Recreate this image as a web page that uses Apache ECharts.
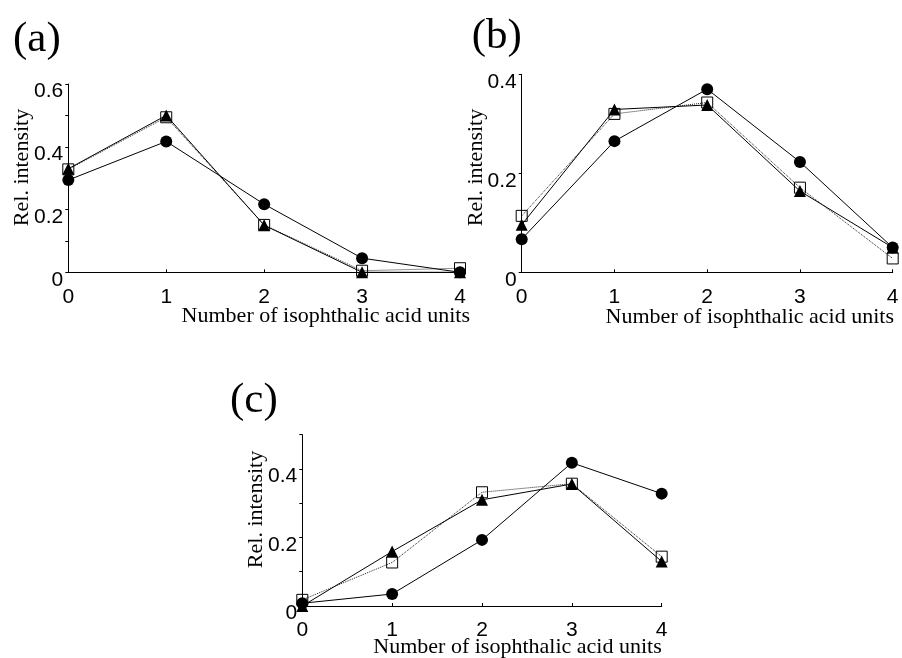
<!DOCTYPE html>
<html>
<head>
<meta charset="utf-8">
<script src="https://cdn.jsdelivr.net/npm/echarts@6/dist/echarts.min.js"></script>
<style>
  html, body { margin: 0; background: #fff; }
  #chart { width: 902px; height: 658px; }
</style>
</head>
<body>
<div id="chart"></div>
<script>
// x categories: number of isophthalic acid units
const units = [0, 1, 2, 3, 4]

// panel (a)
const circleA = [0.294, 0.417, 0.217, 0.045, 0.0]
const squareA = [0.328, 0.494, 0.151, 0.005, 0.013]
const triangleA = [0.33, 0.5, 0.15, 0.0, 0.0]

// panel (b)
const circleB = [0.067, 0.265, 0.37, 0.223, 0.05]
const squareB = [0.114, 0.32, 0.343, 0.171, 0.028]
const triangleB = [0.096, 0.329, 0.338, 0.164, 0.05]

// panel (c)
const circleC = [0.008, 0.035, 0.193, 0.418, 0.328]
const squareC = [0.018, 0.127, 0.332, 0.357, 0.144]
const triangleC = [0.0, 0.159, 0.31, 0.356, 0.13]

const xName = 'Number of isophthalic acid units'
const yName = 'Rel. intensity'

const chart = echarts.init(document.getElementById('chart'))

const sans = 'Liberation Sans, Arial, sans-serif'
const serif = 'Liberation Serif, Times New Roman, serif'

function pairs(vals) {
  return units.map((u, i) => [u, vals[i]])
}

function xAxisFor(gridIndex, margin) {
  return {
    type: 'value',
    gridIndex,
    min: 0,
    max: 4,
    interval: 1,
    splitLine: { show: false },
    axisLine: { onZero: false, lineStyle: { color: '#000', width: 1 } },
    axisTick: { inside: true, length: 3, lineStyle: { color: '#000' } },
    axisLabel: { color: '#000', fontFamily: sans, fontSize: 21, margin }
  }
}

function yAxisFor(gridIndex, max, interval) {
  return {
    type: 'value',
    gridIndex,
    min: 0,
    max,
    interval,
    splitLine: { show: false },
    axisLine: { show: true, lineStyle: { color: '#000', width: 1 } },
    axisTick: { show: true, length: 3, lineStyle: { color: '#000' } },
    axisLabel: {
      color: '#000',
      fontFamily: sans,
      fontSize: 21,
      margin: 5,
      verticalAlign: 'top',
      lineHeight: 15,
      formatter: v => {
        const t = Math.round(v * 10)
        return t % 2 === 0 ? String(t / 10) : ''
      }
    }
  }
}

function seriesFor(idx, circle, square, triangle) {
  return [
    {
      type: 'line',
      xAxisIndex: idx,
      yAxisIndex: idx,
      data: pairs(circle),
      symbol: 'circle',
      symbolSize: 12,
      clip: false,
      lineStyle: { color: '#000', width: 1 },
      itemStyle: { color: '#000' }
    },
    {
      type: 'line',
      xAxisIndex: idx,
      yAxisIndex: idx,
      data: pairs(square),
      symbol: 'rect',
      symbolSize: 11,
      clip: false,
      lineStyle: { color: '#222', width: 1, type: 'dotted' },
      itemStyle: { color: 'rgba(0,0,0,0)', borderColor: '#000', borderWidth: 1 }
    },
    {
      type: 'line',
      xAxisIndex: idx,
      yAxisIndex: idx,
      data: pairs(triangle),
      symbol: 'triangle',
      symbolSize: 12,
      clip: false,
      lineStyle: { color: '#000', width: 1 },
      itemStyle: { color: '#000' }
    }
  ]
}

function label(text, x, y) {
  return {
    type: 'text',
    x,
    y,
    style: { text, font: '43px ' + serif, fill: '#000', align: 'left', verticalAlign: 'middle' }
  }
}

function xTitle(x, y) {
  return {
    type: 'text',
    x,
    y,
    style: { text: xName, font: '22px ' + serif, fill: '#000', align: 'right', verticalAlign: 'middle' }
  }
}

function yTitle(x, y) {
  return {
    type: 'text',
    x,
    y,
    rotation: Math.PI / 2,
    style: { text: yName, font: '22px ' + serif, fill: '#000', align: 'center', verticalAlign: 'middle' }
  }
}

chart.setOption({
  animation: false,
  backgroundColor: '#fff',
  grid: [
    { left: 68.3, top: 84, width: 391.7, height: 188.3 },
    { left: 521.7, top: 74.3, width: 371, height: 198 },
    { left: 302.3, top: 434.7, width: 359.4, height: 171.3 }
  ],
  xAxis: [xAxisFor(0, 14), xAxisFor(1, 14), xAxisFor(2, 14)],
  yAxis: [yAxisFor(0, 0.6, 0.1), yAxisFor(1, 0.4, 0.2), yAxisFor(2, 0.5, 0.1)],
  series: [
    ...seriesFor(0, circleA, squareA, triangleA),
    ...seriesFor(1, circleB, squareB, triangleB),
    ...seriesFor(2, circleC, squareC, triangleC)
  ],
  graphic: [
    label('(a)', 13, 40),
    label('(b)', 471.7, 36.5),
    label('(c)', 230, 401),
    xTitle(470, 316),
    xTitle(894, 317),
    xTitle(661.7, 647.7),
    yTitle(22, 167.5),
    yTitle(476, 167.5),
    yTitle(256, 509.5)
  ]
})
</script>
</body>
</html>
